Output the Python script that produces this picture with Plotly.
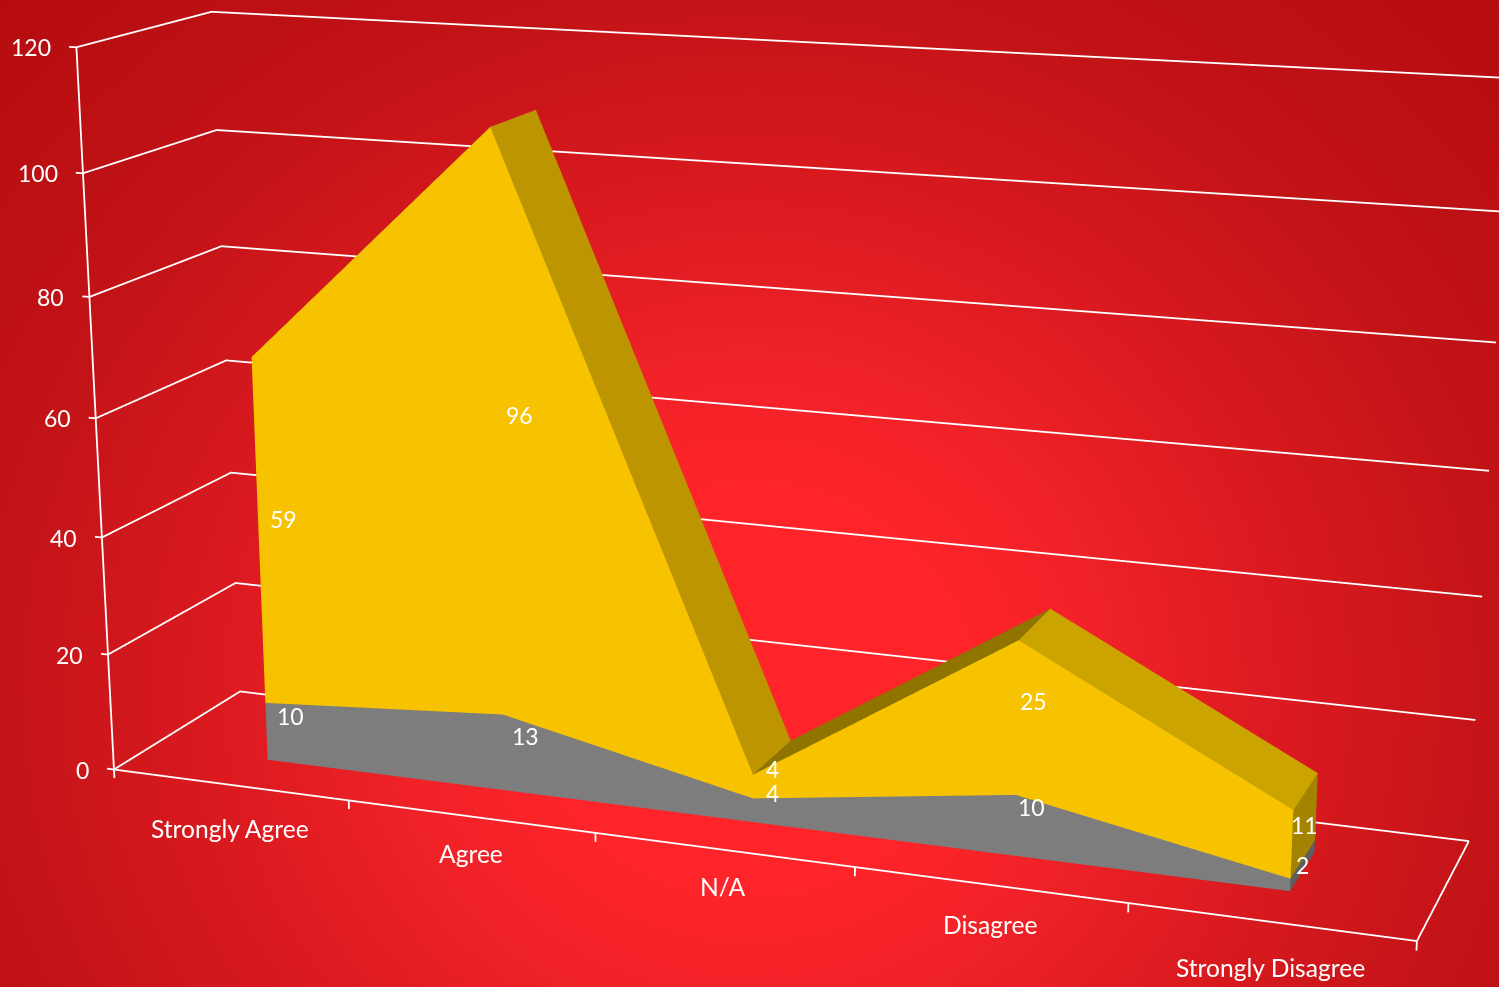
import numpy as np
import plotly.graph_objects as go

categories = ["Strongly Agree", "Agree", "N/A", "Disagree", "Strongly Disagree"]
gray_values = [10, 13, 4, 10, 2]
gold_values = [59, 96, 4, 25, 11]
z_ticks = [0, 20, 40, 60, 80, 100, 120]

# Scene proportions and perspective camera (world units: height of the value axis = 1)
SX, SY = 1.80356, 0.36578
FOCAL = 3645.90
PRINCIPAL_Y = 525.28
EYE = np.array([1.59203, -4.33161, 1.185])
FORWARD = np.array([-0.33792, 0.90155, -0.27021])
UP = np.array([-0.09288, 0.25375, 0.9628])
VIEW_DIST = 4.7646
DEPTH_FRONT, DEPTH_BACK = 0.3, 0.7

H = int(round(2 * FOCAL * np.tan(np.pi / 8)))
top = H / 2 - PRINCIPAL_Y
x_range = [-0.05, 5.05]
y_range = [-0.05, 1.05]
z_range = [-2, 122]
xm, ym, zm = [np.mean(r) for r in (x_range, y_range, z_range)]
shift = np.array([SX * (xm / 5 - 0.5), SY * (ym - 0.5), zm / 120 - 0.5])
eye = EYE - shift
center = EYE + FORWARD * VIEW_DIST - shift
aspect = dict(x=SX * np.ptp(x_range) / 5, y=SY * np.ptp(y_range), z=np.ptp(z_range) / 120)

# Stacked 3D area built as flat-coloured quads
xs = [i + 0.5 for i in range(len(categories))]
y0, y1 = DEPTH_FRONT, DEPTH_BACK
vx, vy, vz, I, J, K, fc = [], [], [], [], [], [], []


def quad(a, b, c, d, col):
    n = len(vx)
    for q in (a, b, c, d):
        vx.append(q[0])
        vy.append(q[1])
        vz.append(q[2])
    I.extend([n, n])
    J.extend([n + 1, n + 2])
    K.extend([n + 2, n + 3])
    fc.extend([col, col])


top_colors = ["#8F7400", "#BD9500", "#8F7400", "#CCA400"]
for i in range(4):
    x1, x2 = xs[i], xs[i + 1]
    g1, g2 = gray_values[i], gray_values[i + 1]
    t1, t2 = g1 + gold_values[i], g2 + gold_values[i + 1]
    quad((x1, y0, 0), (x2, y0, 0), (x2, y0, g2), (x1, y0, g1), "#7D7D7D")
    quad((x1, y0, g1), (x2, y0, g2), (x2, y0, t2), (x1, y0, t1), "#F7C300")
    quad((x1, y0, t1), (x2, y0, t2), (x2, y1, t2), (x1, y1, t1), top_colors[i])
xe, ge, te = xs[-1], gray_values[-1], gray_values[-1] + gold_values[-1]
quad((xe, y0, 0), (xe, y1, 0), (xe, y1, ge), (xe, y0, ge), "#5E5E5E")
quad((xe, y0, ge), (xe, y1, ge), (xe, y1, te), (xe, y0, te), "#A38300")
mesh = go.Mesh3d(x=vx, y=vy, z=vz, i=I, j=J, k=K, facecolor=fc, flatshading=True,
                 lighting=dict(ambient=1, diffuse=0, specular=0, fresnel=0, roughness=1),
                 hoverinfo="skip")

# Grid lines, floor outline and tick marks
lx, ly, lz = [], [], []


def line(*pts):
    for q in pts:
        lx.append(q[0])
        ly.append(q[1])
        lz.append(q[2])
    lx.append(None)
    ly.append(None)
    lz.append(None)


for v in z_ticks:
    line((-0.03, 0, v), (0, 0, v), (0, 1, v), (5, 1, v))
line((0, 0, 0), (0, 0, 120))
line((0, 0, 0), (5, 0, 0), (5, 1, 0))
for k in range(6):
    line((k, 0, 0), (k, 0, -1.5))
lines = go.Scatter3d(x=lx, y=ly, z=lz, mode="lines", line=dict(color="white", width=3.6), hoverinfo="skip")

font = "Lato"
ann = []
for v in z_ticks:
    ann.append(dict(x=0, y=0, z=v, text=str(v), showarrow=False, xanchor="right", xshift=-23,
                    font=dict(color="white", size=23, family=font)))
label_drop = [-44, -37, -37, -40, -46]
for i, name in enumerate(categories):
    ann.append(dict(x=xs[i], y=0, z=0, text=name, showarrow=False, yshift=label_drop[i],
                    font=dict(color="white", size=24.6, family=font)))
mid_depth = (y0 + y1) / 2
for i in range(len(categories)):
    g, a = gray_values[i], gold_values[i]
    ann.append(dict(x=xs[i], y=mid_depth, z=g / 2, text=str(g), showarrow=False,
                    font=dict(color="white", size=23, family=font)))
    ann.append(dict(x=xs[i], y=mid_depth, z=g + a / 2, text=str(a), showarrow=False,
                    font=dict(color="white", size=23, family=font)))

ax = dict(visible=False, showgrid=False, zeroline=False, showspikes=False, showbackground=False)
fig = go.Figure([lines, mesh])
fig.update_layout(
    width=1499, height=H, margin=dict(l=0, r=0, t=0, b=0), autosize=False, showlegend=False,
    paper_bgcolor="rgba(0,0,0,0)",
    scene=dict(
        domain=dict(x=[0, 1], y=[0, 1]), bgcolor="rgba(0,0,0,0)",
        aspectmode="manual", aspectratio=aspect,
        xaxis=dict(range=x_range, **ax), yaxis=dict(range=y_range, **ax), zaxis=dict(range=z_range, **ax),
        camera=dict(eye=dict(x=eye[0], y=eye[1], z=eye[2]),
                    center=dict(x=center[0], y=center[1], z=center[2]),
                    up=dict(x=UP[0], y=UP[1], z=UP[2]),
                    projection=dict(type="perspective")),
        annotations=ann))
post = f"""
var g=document.getElementById('gd');
document.documentElement.style.height='987px';document.documentElement.style.overflow='hidden';
document.body.style.cssText='margin:0;height:987px;overflow:hidden;position:relative;background:radial-gradient(ellipse 1060px 980px at 750px 690px,#FF2429 0%,#FF2429 20%,#F02228 33%,#DD1B20 48%,#C21317 72%,#B50C0F 100%);';
g.style.position='absolute';g.style.left='0px';g.style.top='{-top}px';
"""
fig.write_html("out.html", div_id="gd", post_script=post)
